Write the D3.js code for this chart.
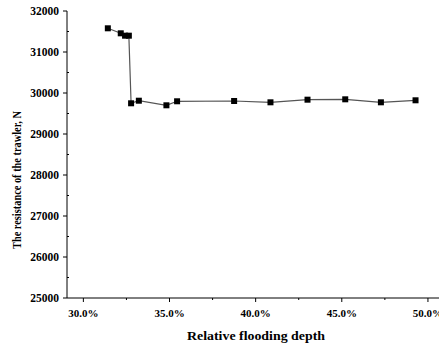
<!DOCTYPE html>
<html><head><meta charset="utf-8">
<script src="https://cdn.jsdelivr.net/npm/d3@7"></script>
<style>body{margin:0;background:#fff}svg{display:block}</style>
</head><body>
<script>
const depth = [31.42, 32.17, 32.42, 32.64, 32.77, 33.22, 34.82, 35.44, 38.75, 40.86, 43.01, 45.2, 47.27, 49.28];
const resistance = [31578, 31456, 31398, 31398, 29749, 29812, 29700, 29798, 29805, 29773, 29837, 29846, 29773, 29822];
const xTicks = [30, 35, 40, 45, 50];
const yTicks = [25000, 26000, 27000, 28000, 29000, 30000, 31000, 32000];
const xLabel = "Relative flooding depth";
const yLabel = "The resistance of the trawler, N";

const W = 439, H = 346;
const svg = d3.select("body").append("svg").attr("width", W).attr("height", H);
const x = d3.scaleLinear().domain([29.05, 50.7]).range([67, 440]);
const y = d3.scaleLinear().domain([25000, 32000]).range([298, 11]);
const font = "'Liberation Serif','Times New Roman',serif";

const xMinor = d3.range(27.5, 51, 2.5).filter(v => v > 29.05 && !xTicks.includes(v));
const yMinor = d3.range(25500, 32000, 1000);

const gx = svg.append("g").attr("transform", "translate(0,298)");
gx.append("line").attr("x1", 67).attr("x2", 440).attr("stroke", "#000").attr("stroke-width", 1);
gx.selectAll(".mt").data(xTicks).join("line").attr("x1", d => x(d)).attr("x2", d => x(d)).attr("y1", 0).attr("y2", 4).attr("stroke", "#000");
gx.selectAll(".mn").data(xMinor).join("line").attr("x1", d => x(d)).attr("x2", d => x(d)).attr("y1", 0).attr("y2", 2).attr("stroke", "#000");
gx.selectAll("text").data(xTicks).join("text").attr("x", d => x(d)).attr("y", 19)
  .attr("text-anchor", "middle").attr("font-family", font).attr("font-weight", "bold").attr("font-size", 11)
  .text(d => d3.format(".1f")(d) + "%");

const gy = svg.append("g").attr("transform", "translate(67,0)");
gy.append("line").attr("y1", 11).attr("y2", 298).attr("stroke", "#000");
gy.selectAll(".mt").data(yTicks).join("line").attr("y1", d => y(d)).attr("y2", d => y(d)).attr("x1", 0).attr("x2", -4).attr("stroke", "#000");
gy.selectAll(".mn").data(yMinor).join("line").attr("y1", d => y(d)).attr("y2", d => y(d)).attr("x1", 0).attr("x2", 2).attr("stroke", "#000");
gy.selectAll("text").data(yTicks).join("text").attr("x", -8).attr("y", d => y(d) + 4)
  .attr("text-anchor", "end").attr("font-family", font).attr("font-weight", "bold").attr("font-size", 11.5)
  .text(d => d);

svg.append("text").attr("x", 256).attr("y", 340).attr("text-anchor", "middle")
  .attr("font-family", font).attr("font-weight", "bold").attr("font-size", 13.5)
  .attr("textLength", 138).attr("lengthAdjust", "spacingAndGlyphs").text(xLabel);
svg.append("text").attr("transform", "translate(21,180) rotate(-90)").attr("text-anchor", "middle")
  .attr("font-family", font).attr("font-weight", "bold").attr("font-size", 13)
  .attr("textLength", 138).attr("lengthAdjust", "spacingAndGlyphs").text(yLabel);

const pts = depth.map((d, i) => [d, resistance[i]]);
svg.append("path").datum(pts).attr("fill", "none").attr("stroke", "#555").attr("stroke-width", 1.2)
  .attr("d", d3.line().x(d => x(d[0])).y(d => y(d[1])));
svg.selectAll(".pt").data(pts).join("rect").attr("class", "pt")
  .attr("x", d => x(d[0]) - 3).attr("y", d => y(d[1]) - 3).attr("width", 6).attr("height", 6).attr("fill", "#000");
</script>
</body></html>
